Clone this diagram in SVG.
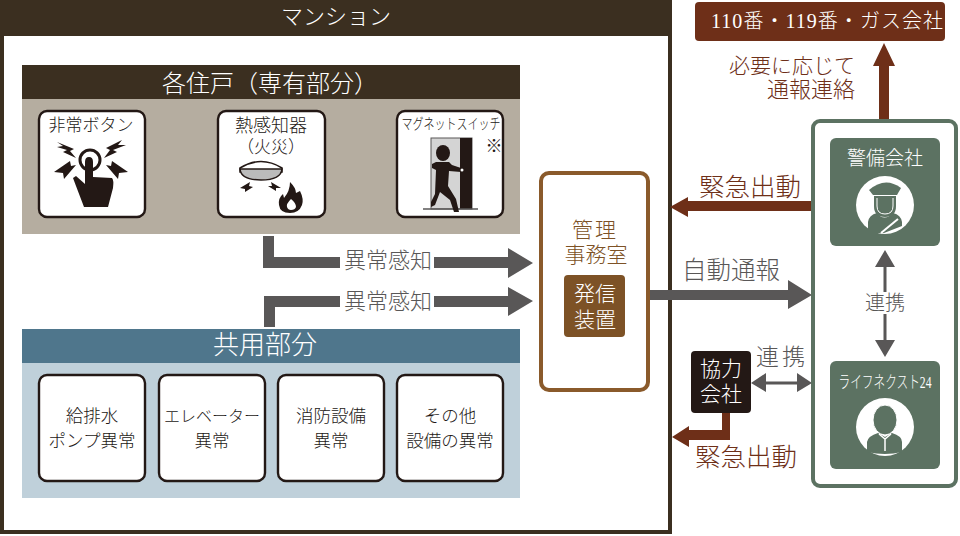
<svg xmlns="http://www.w3.org/2000/svg" width="960" height="536" viewBox="0 0 960 536">
<style>
text{font-family:"Liberation Serif","Noto Sans CJK JP",serif;text-anchor:middle;font-weight:300}
.dk{fill:#231815}
.card{fill:#fff;stroke:#231815;stroke-width:2.4}
.t15{font-size:17.5px;fill:#231815}
.g{fill:#595757}
.br{fill:#6e2f18}
.grn{fill:#5c7262}
</style>
<rect width="960" height="536" fill="#fff"/>
<g id="mansion">
<path d="M0 0H672V534H0ZM4 36V530H668V36Z" fill="#3b2f20" fill-rule="evenodd"/>
<text x="336" y="24" font-size="22" fill="#fff">マンション</text>
</g>
<g id="private">
<rect x="22" y="65" width="498" height="169" fill="#b5ada0"/>
<rect x="22" y="65" width="498" height="34" fill="#3b2f20"/>
<text x="270" y="92" font-size="24" fill="#fff">各住戸（専有部分）</text>
</g>
<g id="alarm-button">
<rect class="card" x="39" y="111" width="106" height="106" rx="8"/>
<text x="91" y="131" font-size="17" fill="#231815">非常ボタン</text>
<circle cx="90" cy="160" r="10" fill="none" stroke="#231815" stroke-width="3"/>
<path class="dk" d="M84 207L76 186 73 178 76 176 85 184V162Q85 157 89 157 93 157 93 162V177L112 178Q114 180 113 188L108 207Z"/>
<path class="dk" d="M57 142L74 149 70 151 76 158 63 152 67 150 57 147 63 146ZM122 140L106 148 110 150 104 158 117 152 113 150 126 145 118 145ZM54 172L70 161 71 166 76 165 64 179 63 173ZM128 172L112 161 111 166 106 165 118 179 119 173Z"/>
</g>
<g id="heat-detector">
<rect class="card" x="218" y="111" width="107" height="106" rx="8"/>
<text x="271" y="132" font-size="18" fill="#231815">熱感知器</text>
<text x="271" y="153" font-size="17" fill="#231815">（火災）</text>
<path d="M240 168Q261 155 282 168V172H240Z" fill="#fff" stroke="#231815" stroke-width="1.5"/>
<path d="M240 169H282Q281 180 261 180 241 180 240 169Z" fill="#bbb" stroke="#231815" stroke-width="1.5"/>
<path class="dk" d="M240 188L250 182 249 186 253 187 245 192 245 189ZM281 188L271 182 272 186 268 186 276 191 276 188Z"/>
<path class="dk" d="M290 182Q296 188 296 193L300 191Q304 199 302 205 299 213 290 213 280 213 279 205 278 198 283 194L284 198Q290 191 290 182ZM291 199Q286 204 287 207 288 210 291 210 295 210 296 207 296 203 291 199Z"/>
</g>
<g id="magnet-switch">
<rect class="card" x="397" y="111" width="106" height="106" rx="8"/>
<text x="451" y="129" font-size="14.500" fill="#231815" textLength="99" lengthAdjust="spacingAndGlyphs">マグネットスイッチ</text>
<text x="494" y="152" font-size="17" fill="#231815" font-family="Noto Sans CJK JP">※</text>
<rect x="431" y="138" width="41" height="71" fill="#d4d4d4" stroke="#595757"/>
<rect x="460" y="138" width="12" height="71" fill="#231815"/>
<path d="M423 209H478" stroke="#595757" stroke-width="1.6"/>
<ellipse cx="443" cy="153" rx="7" ry="8" class="dk"/>
<path class="dk" d="M436 162H449L452 165 461 168V172L449 171 448 186 456 199 459 212H454L450 200 440 192 435 205 431 207V202L435 194 436 170 432 168V164Z"/>
<circle cx="462" cy="170" r="1.5" fill="#fff"/>
</g>
<g id="shared">
<rect x="22" y="329" width="498" height="169" fill="#bfd0da"/>
<rect x="22" y="329" width="498" height="34" fill="#4f768c"/>
<text x="265" y="354" font-size="26" fill="#fff">共用部分</text>
</g>
<g id="pump"><rect class="card" x="39" y="375" width="106" height="106" rx="8"/><text class="t15" x="92" y="422">給排水</text><text class="t15" x="92" y="447">ポンプ異常</text></g>
<g id="elevator"><rect class="card" x="159" y="375" width="106" height="106" rx="8"/><text x="212" y="422" font-size="16" fill="#231815">エレベーター</text><text class="t15" x="212" y="447">異常</text></g>
<g id="fire"><rect class="card" x="278" y="375" width="106" height="106" rx="8"/><text class="t15" x="331" y="422">消防設備</text><text class="t15" x="331" y="447">異常</text></g>
<g id="other"><rect class="card" x="397" y="375" width="106" height="106" rx="8"/><text class="t15" x="450" y="422">その他</text><text class="t15" x="450" y="447">設備の異常</text></g>
<g id="connectors">
<path class="g" d="M263 236H274V257H340V268H263ZM434 257H508V248L533 263 508 278V268H434Z"/>
<path class="g" d="M264 327V296H340V307H275V327ZM434 296H508V287L533 301 508 316V307H434Z"/>
<path class="g" d="M650 290H788V280L812 295 788 309V300H650Z"/>
<path class="br" d="M812 201V211H688V217L670 207 688 197V201Z"/>
<path class="br" d="M879 120V66H873L884 43 895 66H889V120Z"/>
<path class="g" d="M885 250L895 267H886.500V292H883.500V267H875ZM883.500 314H886.500V340H895L885 357 875 340H883.500Z"/>
<path class="g" d="M751 383L766 373V381.500H797V373L812 383 797 392V384.500H766V392Z"/>
<path class="br" d="M722 412H730V440H689V447L672 437 689 426V430H722Z"/>
</g>
<g id="labels-left">
<text x="388" y="268" font-size="22" fill="#595757">異常感知</text>
<text x="388" y="309" font-size="22" fill="#595757">異常感知</text>
</g>
<g id="office">
<rect x="541" y="173" width="107" height="217" rx="8" fill="#fff" stroke="#8a5a2b" stroke-width="4"/>
<text x="595" y="237" font-size="21" fill="#7d5226" letter-spacing="2">管理</text>
<text x="596" y="262" font-size="21" fill="#7d5226">事務室</text>
<rect x="564" y="275" width="61" height="62" rx="4" fill="#7d5226"/>
<text x="595" y="301" font-size="21" fill="#fff">発信</text>
<text x="595" y="327" font-size="21" fill="#fff">装置</text>
</g>
<g id="emergency-services">
<rect x="695" y="2" width="250" height="39" rx="4" class="br"/>
<text x="827" y="28" font-size="20" fill="#fff" textLength="232" lengthAdjust="spacing">110番・119番・ガス会社</text>
</g>
<g id="labels-right">
<text x="792" y="73" font-size="21" class="br">必要に応じて</text>
<text x="811" y="97" font-size="22" class="br">通報連絡</text>
<text x="750" y="196" font-size="25.500" class="br">緊急出動</text>
<text x="731" y="279" font-size="24.500" fill="#595757">自動通報</text>
<text x="782" y="365" font-size="23" fill="#595757" letter-spacing="3">連携</text>
<text x="885" y="310" font-size="20" fill="#595757">連携</text>
<text x="746" y="466" font-size="25.500" class="br">緊急出動</text>
</g>
<g id="security-panel">
<rect x="813" y="121" width="143" height="365" rx="7" fill="none" stroke="#5c7262" stroke-width="4"/>
</g>
<g id="security">
<rect class="grn" x="830" y="138" width="110" height="108" rx="6"/>
<text x="885" y="165" font-size="19" fill="#fff">警備会社</text>
<circle cx="885" cy="205" r="29" fill="#fff"/>
<path class="grn" d="M869 190Q885 176 901 188L897 195H873Z"/>
<path class="grn" d="M868 233V222Q869 215 877 213 884 222 893 213 901 215 902 222V226L884 233Z"/>
<path class="grn" d="M874 196H896V206Q896 217 885 217 874 217 874 206Z"/>
<path d="M877 198V206Q877 214 885 214 893 214 893 206V198" fill="none" stroke="#fff"/>
<path d="M881 233L898 219" stroke="#fff" stroke-width="2"/>
</g>
<g id="lifenext">
<rect class="grn" x="830" y="361" width="110" height="108" rx="6"/>
<text x="885" y="388" font-size="17" fill="#fff" textLength="93" lengthAdjust="spacingAndGlyphs">ライフネクスト24</text>
<circle cx="885" cy="427" r="29" fill="#fff"/>
<path class="grn" d="M867 452V442Q868 436 878 433L885 437 892 433Q902 436 902 442V452Q885 456 867 452Z"/>
<ellipse class="grn" cx="885" cy="420" rx="12" ry="15" stroke="#fff" stroke-width="1"/>
<path d="M879 434L885 439 891 434M885 439V451" stroke="#fff" fill="none" stroke-width="1.500"/>
</g>
<g id="partner">
<rect x="691" y="351" width="60" height="62" rx="4" fill="#231815"/>
<text x="721" y="376" font-size="21" fill="#fff">協力</text>
<text x="721" y="401" font-size="21" fill="#fff">会社</text>
</g>
</svg>
